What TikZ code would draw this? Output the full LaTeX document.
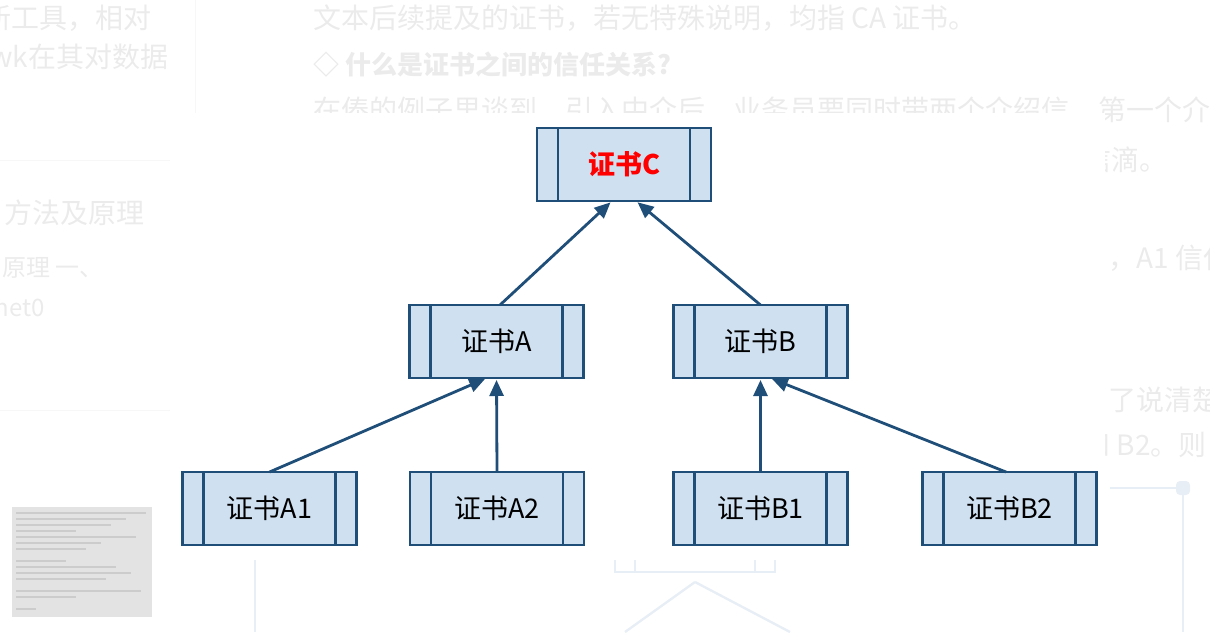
\documentclass[tikz,border=0pt]{standalone}
\usepackage{fontspec}
\setmainfont{Noto Sans CJK SC}
\usetikzlibrary{arrows.meta}
\definecolor{certline}{HTML}{1F4E79}
\definecolor{certfill}{HTML}{CFE0F1}
\definecolor{pagetext}{HTML}{EBEBEB}
\definecolor{pageline}{HTML}{E8EEF5}

\begin{document}
\begin{tikzpicture}[x=0.5pt,y=-0.5pt,
    cert/.style={draw=certline,fill=certfill,line width=1.45pt,minimum width=87pt,
        minimum height=36.5pt,inner sep=0pt,outer sep=0pt,font=\fontsize{13.5}{15}\selectfont},
    link/.style={draw=certline,line width=1.4pt,-{Triangle[length=8pt,width=7pt]},shorten >=1pt},
    page/.style={text=pagetext,font=\fontsize{14}{16}\selectfont,inner sep=0pt}]
    \useasboundingbox (0,0) rectangle (1210,632);
    \begin{scope}
    \clip (0,0) rectangle (1210,632);
    % page behind the figure
    \node [page,anchor=west] at (313,18) {文本后续提及的证书，若无特殊说明，均指 CA 证书。};
    \node [page,anchor=west,font=\fontsize{13}{16}\selectfont\bfseries] at (313,65) {◇ 什么是证书之间的信任关系?};
    \node [page,anchor=west] at (313,110) {在傣的例子里谈到，引入中介后，业务员要同时带两个介绍信，};
    \node [page,anchor=west] at (1098,110) {第一个介绍};
    \node [page,anchor=east] at (1168,160) {信滴。};
    \node [page,anchor=west] at (1108,258) {，A1 信任};
    \node [page,anchor=west] at (1108,400) {了说清楚};
    \node [page,anchor=west] at (1082,445) {和 B2。则};
    \node [page,anchor=east] at (152,18) {新工具，相对};
    \node [page,anchor=west] at (-10,57) {wk在其对数据};
    \node [page,anchor=west] at (4,213) {方法及原理};
    \node [page,anchor=west,font=\fontsize{12}{14}\selectfont] at (2,268) {原理 一、};
    \node [page,anchor=west,font=\fontsize{12}{14}\selectfont] at (-6,308) {net0};
    \draw [gray!6] (195,0) -- (195,113) (0,160) -- (170,160) (0,410) -- (170,410);
    \fill [gray!22] (12,507) rectangle (152,617);
    \foreach \y/\l in {513/130,519/110,525/95,531/60,537/120,543/85,549/70,561/50,567/100,573/115,579/90,591/125,597/60,609/20}
        \draw [gray!40,line width=0.6pt] (16,\y) -- (16+\l,\y);
    \draw [pageline,line width=1pt] (255,560) -- (255,632)
        (615,560) -- (615,572) -- (775,572) -- (775,560) (635,560) -- (635,572) (755,560) -- (755,572);
    \draw [pageline,line width=1.2pt] (695,582) -- (625,632) (695,582) -- (790,632);
    \draw [pageline,line width=1pt] (1110,488) -- (1176,488) (1183,495) -- (1183,632);
    \fill [pageline,rounded corners=2pt] (1176,481) rectangle (1190,495);
    \fill [white] (170,113) rectangle (1105,560);
    \end{scope}

    \node (C) [cert,text=red,font=\fontsize{13.5}{15}\selectfont\bfseries] at (624,164.5) {证书C};
    \node (A) [cert] at (496.5,341.5) {证书A};
    \node (B) [cert] at (760.5,341.5) {证书B};
    \node (A1) [cert] at (269.5,508.5) {证书A1};
    \node (A2) [cert] at (497,508.5) {证书A2};
    \node (B1) [cert] at (760.5,508.5) {证书B1};
    \node (B2) [cert] at (1009.5,508.5) {证书B2};
    \foreach \n in {C,A,B,A1,A2,B1,B2}
        \draw [certline,line width=1.45pt] ([xshift=10.5pt]\n.north west) -- ([xshift=10.5pt]\n.south west)
            ([xshift=-10.5pt]\n.north east) -- ([xshift=-10.5pt]\n.south east);
    \draw [link] ([xshift=1.75pt]A.north) -- ([xshift=-6pt]C.south);
    \draw [link] (B.north) -- ([xshift=6pt]C.south);
    \draw [link] (A1.north) -- ([xshift=-4.75pt]A.south);
    \draw [link] (A2.north) -- (A.south);
    \draw [link] (B1.north) -- (B.south);
    \draw [link] ([xshift=-1.75pt]B2.north) -- ([xshift=4.75pt]B.south);
\end{tikzpicture}
\end{document}
